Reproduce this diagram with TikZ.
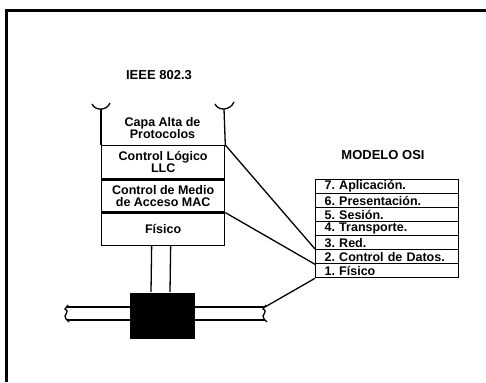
\documentclass[tikz,border=0pt]{standalone}
\usepackage{fontspec}
\setmainfont{Liberation Sans}
\usepackage{tikz}
\usetikzlibrary{positioning}
\frenchspacing

\tikzset{
  layer/.style={draw, line width=1.3pt, minimum width=123, inner sep=0pt, align=center,
    font=\bfseries\fontsize{12.5}{12}\selectfont},
  osirow/.style={draw, line width=1.3pt, minimum width=143, minimum height=14, inner sep=0pt,
    text width=125, align=left, font=\bfseries\fontsize{12.5}{12}\selectfont},
  title/.style={font=\bfseries\fontsize{13}{13}\selectfont}
}

\begin{document}
\begin{tikzpicture}[x=1pt, y=-1pt, line width=1.3pt]
\useasboundingbox (0,0) rectangle (486,382);
% frame
\draw[line width=3pt] (6.5,382) -- (6.5,10.5) -- (486,10.5);

% IEEE 802.3 stack
\node[title] (ieee) at (159,75) {IEEE 802.3};
\node[layer, minimum height=33, anchor=north west] (llc) at (101,145) {Control Lógico\\LLC};
\node[layer, minimum height=32, below=0pt of llc] (mac) {Control de Medio\\de Acceso MAC};
\node[layer, minimum height=32, below=0pt of mac] (fis) {Físico};
\node[layer, draw=none] (capa) at (162.5,128) {Capa Alta de\\Protocolos};
\coordinate (capaL) at (101,109);
\coordinate (capaR) at (224,109);
\draw (capaL) -- (llc.north west);
\draw (capaR) -- (llc.north east);
\draw (92,104) .. controls (95,111) and (107,111) .. (110,103);
\draw (215,104) .. controls (218,111) and (230,111) .. (234,102);

% cable and transceiver
\draw (67,307) -- (265,307);
\draw (67,320) -- (265,320);
\draw (68,305) -- (65,309) .. controls (71,312) and (62,315) .. (66,319) -- (69,322);
\draw (266,305) -- (263,309) .. controls (269,312) and (260,315) .. (264,319) -- (267,322);
\node[fill=black, minimum width=65, minimum height=46, inner sep=0pt, anchor=north] (trx) at (162.5,292) {};
\draw ([xshift=-11.5pt]fis.south) -- ([xshift=-11.5pt]trx.north);
\draw ([xshift=7.5pt]fis.south) -- ([xshift=7.5pt]trx.north);
\coordinate (cabR) at (265,307);

% OSI model
\node[title] (osi) at (383,155) {MODELO OSI};
\foreach \n/\t [count=\i from 0] in {7/7. Aplicación., 6/6. Presentación., 5/5. Sesión.,
    4/4. Transporte., 3/3. Red., 2/2. Control de Datos., 1/1. Físico}
  \node[osirow, anchor=north west] (osi\n) at (315,{179+14*\i}) {\t};

\draw (llc.north east) -- (osi2.north west);
\draw (mac.south east) -- (osi2.south west);
\draw (osi1.south west) -- (cabR);
\end{tikzpicture}
\end{document}
